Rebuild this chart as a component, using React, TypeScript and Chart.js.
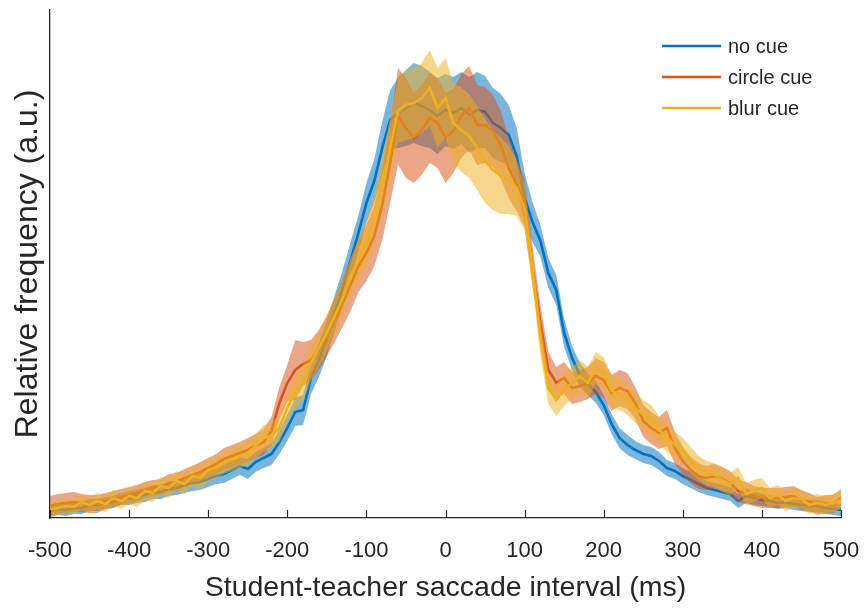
import React, { useEffect, useRef } from "react";
import { Chart, registerables } from "chart.js";

Chart.register(...registerables);

// Bin centres (ms): -500 .. 500 in 10 ms steps
const BIN_START = -500;
const BIN_STEP = 10;

// Relative frequency (a.u.)
const noCue = [
  7, 9, 8, 10, 10, 13, 13, 15, 16, 19,
  20, 22, 23, 26, 26, 29, 30, 33, 35, 36,
  39, 42, 44, 48, 52, 49, 56, 60, 64, 76,
  90, 106, 108, 140, 158, 180, 205, 230, 258, 285,
  315, 337, 370, 398, 405, 410, 415, 412, 408, 402,
  408, 405, 410, 403, 408, 406, 395, 390, 383, 362,
  320, 296, 277, 245, 228, 185, 160, 143, 134, 126,
  113, 94, 80, 73, 68, 64, 62, 57, 50, 47,
  42, 38, 34, 30, 28, 26, 24, 17, 22, 20,
  18, 17, 15, 16, 14, 13, 12, 12, 10, 9, 8,
];
const circleCue = [
  12, 14, 15, 16, 15, 14, 14, 17, 19, 21,
  23, 25, 28, 30, 31, 35, 36, 40, 43, 46,
  50, 54, 59, 62, 65, 68, 72, 76, 87, 115,
  135, 148, 154, 158, 168, 182, 198, 215, 233, 252,
  265, 282, 313, 355, 402, 390, 380, 388, 400, 395,
  380, 387, 402, 410, 393, 393, 387, 373, 350, 333,
  315, 252, 195, 148, 135, 140, 130, 132, 135, 142,
  138, 125, 130, 127, 115, 97, 90, 85, 90, 70,
  57, 48, 42, 40, 42, 39, 35, 27, 25, 22,
  20, 20, 20, 21, 22, 18, 16, 12, 14, 14, 20,
];
const blurCue = [
  8, 10, 12, 11, 16, 13, 17, 14, 20, 17,
  22, 20, 27, 25, 32, 30, 37, 34, 42, 40,
  48, 50, 55, 58, 62, 65, 72, 80, 82, 90,
  110, 125, 135, 155, 170, 185, 202, 220, 242, 258,
  275, 298, 333, 370, 407, 413, 415, 420, 430, 410,
  420, 395, 388, 382, 370, 357, 348, 342, 338, 330,
  310, 250, 180, 130, 118, 128, 135, 142, 135, 150,
  145, 127, 124, 118, 110, 103, 98, 88, 80, 73,
  67, 58, 50, 45, 43, 38, 34, 40, 24, 27,
  30, 20, 23, 17, 20, 19, 13, 15, 13, 15, 18,
];

// Half-width of the shaded error band (a.u.)
const noCueErr = [
  6, 6, 6, 6, 6, 6, 6, 6, 6, 6,
  7, 7, 7, 7, 7, 7, 7, 8, 8, 8,
  8, 8, 9, 9, 9, 10, 10, 10, 11, 12,
  13, 14, 15, 16, 17, 18, 18, 18, 18, 18,
  20, 22, 26, 30, 35, 38, 40, 40, 38, 38,
  36, 36, 36, 38, 38, 36, 35, 34, 30, 28,
  25, 20, 16, 15, 15, 14, 12, 12, 11, 11,
  10, 10, 10, 10, 9, 9, 9, 9, 8, 8,
  8, 8, 8, 7, 7, 7, 7, 7, 7, 7,
  6, 6, 6, 6, 6, 6, 6, 6, 6, 6, 6,
];
const circleCueErr = [
  10, 10, 10, 10, 9, 9, 9, 8, 8, 8,
  8, 8, 8, 8, 8, 9, 9, 9, 9, 10,
  10, 10, 11, 11, 11, 12, 12, 13, 14, 16,
  18, 30, 22, 20, 20, 20, 22, 24, 26, 26,
  28, 30, 35, 40, 48, 50, 45, 45, 45, 45,
  45, 42, 42, 42, 40, 38, 36, 34, 30, 26,
  24, 20, 18, 18, 16, 16, 16, 16, 16, 18,
  18, 18, 18, 18, 16, 16, 16, 16, 18, 16,
  14, 13, 13, 12, 12, 12, 12, 11, 11, 10,
  10, 10, 10, 10, 10, 10, 9, 9, 9, 9, 9,
];
const blurCueErr = [
  7, 7, 7, 7, 8, 8, 8, 8, 8, 8,
  8, 9, 9, 9, 9, 10, 10, 10, 10, 12,
  12, 10, 11, 11, 12, 12, 12, 13, 13, 14,
  15, 16, 18, 18, 18, 18, 18, 18, 18, 20,
  22, 25, 28, 30, 32, 35, 35, 35, 38, 40,
  40, 40, 42, 42, 42, 42, 40, 38, 34, 28,
  22, 18, 18, 16, 16, 16, 16, 16, 16, 16,
  16, 16, 16, 15, 15, 15, 15, 14, 14, 13,
  13, 13, 12, 12, 12, 12, 11, 11, 11, 11,
  10, 10, 10, 10, 10, 9, 9, 9, 9, 9, 9,
];

const X_TICKS = [-500, -400, -300, -200, -100, 0, 100, 200, 300, 400, 500];
const SERIES_LABELS = ["no cue", "circle cue", "blur cue"];
const X_TITLE = "Student-teacher saccade interval (ms)";
const Y_TITLE = "Relative frequency (a.u.)";

const LINE_COLORS = ["#0072BD", "#D95319", "#EDB120"];
const BAND_COLORS = [
  "rgba(0,114,189,0.52)",
  "rgba(217,83,25,0.52)",
  "rgba(237,177,32,0.52)",
];
const TEXT = "#262626";
const FONT = "'Liberation Sans', Arial, Helvetica, sans-serif";

export default function App() {
  const ref = useRef<HTMLCanvasElement | null>(null);

  useEffect(() => {
    if (!ref.current) return;
    const series = [noCue, circleCue, blurCue];
    const errs = [noCueErr, circleCueErr, blurCueErr];
    const xAt = (i: number) => BIN_START + i * BIN_STEP;

    const datasets: any[] = [];
    series.forEach((vals, s) => {
      const e = errs[s];
      datasets.push({
        label: "_upper" + s,
        data: vals.map((v, i) => ({ x: xAt(i), y: v + e[i] })),
        borderColor: "transparent",
        borderWidth: 0,
        pointRadius: 0,
        backgroundColor: BAND_COLORS[s],
        fill: "+1",
        tension: 0,
      });
      datasets.push({
        label: "_lower" + s,
        data: vals.map((v, i) => ({ x: xAt(i), y: v - e[i] })),
        borderColor: "transparent",
        borderWidth: 0,
        pointRadius: 0,
        fill: false,
        tension: 0,
      });
      datasets.push({
        label: SERIES_LABELS[s],
        data: vals.map((v, i) => ({ x: xAt(i), y: v })),
        borderColor: LINE_COLORS[s],
        borderWidth: 2.6,
        pointRadius: 0,
        fill: false,
        tension: 0,
        borderJoinStyle: "miter",
      });
    });
    const n = datasets.length;
    datasets.forEach((d, i) => (d.order = n - i));

    const decor = {
      id: "decor",
      afterDraw(chart: any) {
        const ctx = chart.ctx;
        const xs = chart.scales.x;
        const area = chart.chartArea;
        ctx.save();
        // inward tick marks
        ctx.strokeStyle = TEXT;
        ctx.lineWidth = 1.2;
        X_TICKS.forEach((t) => {
          const px = Math.round(xs.getPixelForValue(t)) + 0.5;
          ctx.beginPath();
          ctx.moveTo(px, area.bottom);
          ctx.lineTo(px, area.bottom - 8);
          ctx.stroke();
        });
        // legend
        const lx0 = 662;
        const lx1 = 721;
        const ys = [46, 77, 108];
        ctx.font = "20px " + FONT;
        ctx.textBaseline = "middle";
        ctx.textAlign = "left";
        SERIES_LABELS.forEach((lab, i) => {
          ctx.strokeStyle = LINE_COLORS[i];
          ctx.lineWidth = 2.6;
          ctx.beginPath();
          ctx.moveTo(lx0, ys[i]);
          ctx.lineTo(lx1, ys[i]);
          ctx.stroke();
          ctx.fillStyle = TEXT;
          ctx.fillText(lab, 728, ys[i] + 1);
        });
        ctx.restore();
      },
    };

    const chart = new Chart(ref.current, {
      type: "line",
      data: { datasets },
      options: {
        animation: false,
        responsive: true,
        maintainAspectRatio: false,
        layout: { padding: { top: 10, right: 26, left: 0, bottom: 0 } },
        plugins: {
          legend: { display: false },
          tooltip: { enabled: false },
        },
        scales: {
          x: {
            type: "linear",
            min: -500,
            max: 500,
            afterBuildTicks: (scale: any) => {
              scale.ticks = X_TICKS.map((v) => ({ value: v }));
            },
            afterFit: (scale: any) => {
              scale.height = 90;
              scale.paddingLeft = 0;
              scale.paddingRight = 0;
            },
            grid: { display: false, drawTicks: false },
            border: { display: true, color: TEXT, width: 1.3 },
            ticks: {
              color: TEXT,
              font: { family: FONT, size: 22 },
              padding: 20,
              maxRotation: 0,
              autoSkip: false,
            },
            title: {
              display: true,
              text: X_TITLE,
              color: TEXT,
              font: { family: FONT, size: 28.5 },
              padding: { top: 0, bottom: 3 },
            },
          },
          y: {
            type: "linear",
            min: 0,
            max: 508,
            afterFit: (scale: any) => {
              scale.width = 50;
              scale.paddingTop = 0;
              scale.paddingBottom = 0;
            },
            grid: { display: false, drawTicks: false },
            border: { display: true, color: TEXT, width: 1.3 },
            ticks: { display: false },
            title: {
              display: true,
              text: Y_TITLE,
              color: TEXT,
              font: { family: FONT, size: 32 },
              padding: { top: 9, bottom: 0 },
            },
          },
        },
      },
      plugins: [decor],
    });
    return () => chart.destroy();
  }, []);

  return (
    <div
      style={{
        position: "fixed",
        left: 0,
        top: 0,
        width: 867,
        height: 608,
        background: "#fff",
      }}
    >
      <canvas ref={ref} />
    </div>
  );
}
